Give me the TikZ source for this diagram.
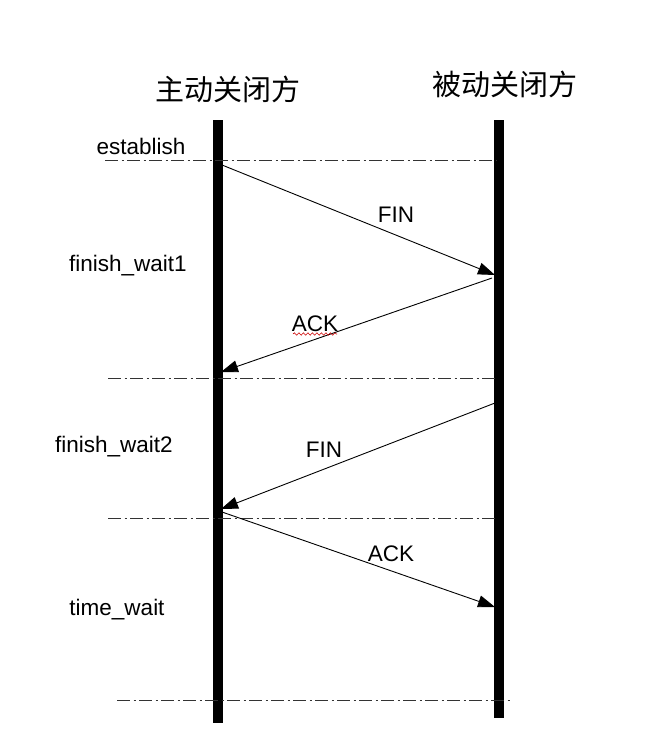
\documentclass[tikz,border=0pt]{standalone}
\usepackage{fontspec}
\setmainfont{Liberation Sans}
\newfontfamily\cjk{Noto Sans CJK SC}
\usetikzlibrary{arrows.meta,decorations.pathmorphing}
\begin{document}
\begin{tikzpicture}[x=1pt,y=-1pt,
  life/.style={line width=9.5pt},
  sep/.style={line width=0.9pt, black!80, dash pattern=on 13pt off 3.5pt on 2pt off 3.5pt},
  msg/.style={line width=0.9pt, -{Triangle[length=17pt,width=12pt]}},
  lbl/.style={font=\fontsize{22.5}{26}\selectfont, inner sep=0pt},
  ttl/.style={font=\cjk\fontsize{29}{32}\selectfont, inner sep=0pt}]
\useasboundingbox (0,0) rectangle (652,747);
% titles
\node[ttl] (t1) at (228,89) {主动关闭方};
\node[ttl] (t2) at (505,84) {被动关闭方};
% lifelines
\coordinate (aTop) at (218,120);
\coordinate (aBot) at (218,723);
\coordinate (bTop) at (499,120);
\coordinate (bBot) at (499,718);
\draw[life] (aTop) -- (aBot);
\draw[life] (bTop) -- (bBot);
% separators
\coordinate (s1a) at (105,160); \coordinate (s1b) at (497,160);
\coordinate (s2a) at (108,378); \coordinate (s2b) at (497,378);
\coordinate (s3a) at (108,518); \coordinate (s3b) at (497,518);
\coordinate (s4a) at (117,700); \coordinate (s4b) at (510,700);
\draw[sep] (s1a) -- (s1b);
\draw[sep] (s2a) -- (s2b);
\draw[sep] (s3a) -- (s3b);
\draw[sep] (s4a) -- (s4b);
% state labels
\node[lbl] (st1) at (141,146) {establish};
\node[lbl] (st2) at (128,266) {finish\_wait1};
\node[lbl] (st3) at (114,447) {finish\_wait2};
\node[lbl] (st4) at (117,610) {time\_wait};
% messages
\coordinate (m1s) at (222,165); \coordinate (m1e) at (495,275);
\coordinate (m2s) at (492,278); \coordinate (m2e) at (221,372);
\coordinate (m3s) at (495,403); \coordinate (m3e) at (221,509);
\coordinate (m4s) at (222,512); \coordinate (m4e) at (495,607);
\draw[msg] (m1s) -- (m1e);
\draw[msg] (m2s) -- (m2e);
\draw[msg] (m3s) -- (m3e);
\draw[msg] (m4s) -- (m4e);
\node[lbl] (l1) at (396,215) {FIN};
\node[lbl] (l2) at (315,324) {ACK};
\node[lbl] (l3) at (324,450) {FIN};
\node[lbl] (l4) at (391,554) {ACK};
% spell-check squiggle
\coordinate (wq1) at (293,334); \coordinate (wq2) at (337,334);
\draw[red!80!black, line width=0.6pt, decorate, decoration={snake, amplitude=1.2pt, segment length=4.5pt}] (wq1) -- (wq2);
\end{tikzpicture}
\end{document}
